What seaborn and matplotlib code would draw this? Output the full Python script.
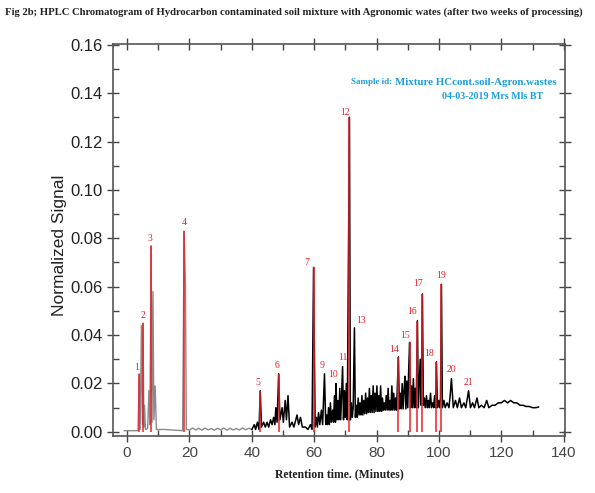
import numpy as np
import pandas as pd
import matplotlib
matplotlib.use("Agg")
import matplotlib.pyplot as plt
import seaborn as sns
from matplotlib.ticker import MultipleLocator, FormatStrFormatter


# early part of the trace (grey baseline with first peaks)
early_time = [-1, 3.5, 3.9, 4.2, 4.6, 4.9, 5.1, 5.4, 5.6, 5.9, 6.6, 7.0, 7.3, 7.7, 8.0, 8.3,
              8.6, 9.0, 9.4, 12, 17.8, 18.3, 18.7, 19.0, 20, 21, 22, 23, 24, 25, 26, 27,
              28, 29, 30, 31, 32, 33, 34, 35, 36, 37, 38, 39, 40]
early_signal = [0.0005, 0.0005, 0.024, 0.001, 0.044, 0.003, 0.045, 0.002, 0.011, 0.001, 0.0015,
                0.017, 0.003, 0.077, 0.004, 0.058, 0.005, 0.019, 0.001, 0.001, 0.0005, 0.083,
                0.061, 0.001, 0.0008, 0.0016, 0.0008, 0.0015, 0.0007, 0.0016, 0.0008, 0.0014,
                0.0007, 0.0015, 0.0008, 0.0016, 0.0007, 0.0015, 0.0008, 0.0014, 0.0008,
                0.0016, 0.0009, 0.0015, 0.001]

# black trace, 40-60 min
mid_points = [(40, 0.001), (40.8, 0.003), (41.2, 0.001), (41.8, 0.004), (42.3, 0.001),
              (42.7, 0.017), (43.1, 0.002), (43.8, 0.004), (44.3, 0.002), (44.9, 0.004),
              (45.4, 0.002), (46.0, 0.005), (46.5, 0.003), (47.0, 0.006), (47.4, 0.003),
              (47.7, 0.010), (48.1, 0.004), (48.6, 0.024), (49.0, 0.005), (49.7, 0.010),
              (50.1, 0.004), (50.7, 0.013), (51.1, 0.005), (51.6, 0.015), (52.1, 0.002),
              (52.9, 0.004), (53.5, 0.002), (54.5, 0.007), (55.0, 0.003), (55.6, 0.006),
              (56.2, 0.002), (57.2, 0.002), (58.0, 0.001), (58.8, 0.003), (59.3, 0.001),
              (59.8, 0.068), (60.3, 0.002)]

# black trace, dense 60-101 min
dense_points = [(60.7, 0.006), (61.0, 0.002), (61.4, 0.008), (61.8, 0.003), (62.3, 0.009),
                (62.7, 0.003), (63.3, 0.024), (63.7, 0.003), (64.0, 0.007), (64.3, 0.003),
                (64.6, 0.010), (64.9, 0.003), (65.2, 0.012), (65.5, 0.004), (65.9, 0.009),
                (66.2, 0.004), (66.5, 0.015), (66.8, 0.004), (67.0, 0.020), (67.3, 0.005),
                (67.6, 0.013), (67.9, 0.005), (68.2, 0.018), (68.5, 0.005), (68.8, 0.016),
                (69.1, 0.027), (69.4, 0.005), (69.7, 0.017), (70.0, 0.006), (70.3, 0.020),
                (70.6, 0.005), (71.3, 0.130), (71.6, 0.005), (71.9, 0.012), (72.2, 0.006),
                (72.5, 0.010), (72.9, 0.043), (73.2, 0.006), (73.5, 0.011), (73.8, 0.006),
                (74.1, 0.014), (74.4, 0.007), (74.7, 0.012), (75.0, 0.007), (75.3, 0.015),
                (75.6, 0.007), (75.9, 0.013), (76.2, 0.0075), (76.5, 0.016), (76.8, 0.0075),
                (77.1, 0.014), (77.4, 0.008), (77.7, 0.018), (78.0, 0.008), (78.3, 0.015),
                (78.6, 0.008), (78.9, 0.019), (79.2, 0.008), (79.5, 0.016), (79.8, 0.0085),
                (80.1, 0.019), (80.4, 0.0085), (80.7, 0.015), (81.0, 0.0085), (81.3, 0.019),
                (81.6, 0.0085), (81.9, 0.014), (82.2, 0.009), (82.5, 0.012), (82.8, 0.009),
                (83.1, 0.015), (83.4, 0.009), (83.7, 0.018), (84.0, 0.009), (84.3, 0.013),
                (84.6, 0.009), (84.9, 0.019), (85.2, 0.009), (85.5, 0.016), (85.8, 0.009),
                (86.1, 0.014), (86.4, 0.009), (86.7, 0.020), (87.0, 0.031), (87.3, 0.0095),
                (87.6, 0.016), (87.9, 0.0095), (88.2, 0.020), (88.5, 0.0095), (88.8, 0.017),
                (89.1, 0.023), (89.4, 0.0095), (89.7, 0.021), (90.0, 0.010), (90.3, 0.026),
                (90.6, 0.037), (90.9, 0.010), (91.2, 0.019), (91.5, 0.010), (91.8, 0.022),
                (92.1, 0.010), (92.4, 0.018), (92.7, 0.010), (93.1, 0.046), (93.4, 0.010),
                (93.7, 0.020), (94.0, 0.030), (94.3, 0.011), (94.7, 0.057), (95.0, 0.011),
                (95.3, 0.014), (95.6, 0.010), (96.0, 0.015), (96.3, 0.010), (96.6, 0.013),
                (96.9, 0.010), (97.3, 0.016), (97.6, 0.010), (98.0, 0.012), (98.3, 0.010),
                (98.6, 0.015), (98.9, 0.010), (99.2, 0.029), (99.5, 0.010), (99.9, 0.013),
                (100.2, 0.010), (100.5, 0.014), (100.8, 0.061), (101.1, 0.010)]

# black trace, tail 101-132 min
tail_points = [(101.6, 0.013), (102.0, 0.010), (102.6, 0.012), (103.2, 0.010), (103.6, 0.015),
               (104.0, 0.022), (104.6, 0.010), (105.3, 0.013), (105.9, 0.010), (106.6, 0.014),
               (107.2, 0.010), (108.0, 0.012), (108.6, 0.010), (109.5, 0.017), (110.1, 0.010),
               (110.8, 0.012), (111.4, 0.010), (112.2, 0.014), (112.8, 0.010), (113.6, 0.011),
               (114.5, 0.010), (115.3, 0.013), (116.0, 0.010), (117.0, 0.011), (118.0, 0.011),
               (119.0, 0.012), (120.0, 0.012), (121.0, 0.013), (122.0, 0.012), (123.0, 0.013),
               (124.0, 0.012), (125.0, 0.012), (126.0, 0.011), (127.0, 0.011), (128.0, 0.0105),
               (129.0, 0.0105), (130.0, 0.010), (131.0, 0.010), (132.0, 0.0103)]

# numbered peaks
peak_labels = ["1", "2", "3", "4", "5", "6", "7", "9", "10", "11", "12", "13", "14", "15",
               "16", "17", "18", "19", "20", "21"]
peak_time = [3.9, 5.1, 7.7, 18.3, 42.7, 48.6, 59.8, 63.3, 67.0, 69.1, 71.3, 72.9, 87.0, 90.6,
             93.1, 94.7, 99.2, 100.8, 104.0, 109.5]
peak_height = [0.024, 0.045, 0.077, 0.083, 0.017, 0.024, 0.068, 0.024, 0.020, 0.027, 0.130,
               0.043, 0.031, 0.037, 0.046, 0.057, 0.029, 0.061, 0.022, 0.017]
red_peaks = ["1", "2", "3", "4", "5", "6", "7", "12", "14", "15", "16", "17", "18", "19"]

label_offsets = [(-2, 1), (0, 2), (-1, 2), (0, 3), (-2, 3), (-1, 3), (-5, 0), (-2, 3), (-2, 3),
                 (0, 3), (-3, 0), (5, 2), (-3, 2), (-3, 2), (-4, 3), (-3, 4), (-5, 3), (0, 3),
                 (0, 3), (0, 3)]

early_df = pd.DataFrame({"time": early_time, "signal": early_signal})
late_df = pd.DataFrame(mid_points + dense_points + tail_points, columns=["time", "signal"])

sns.set_style("ticks")
plt.rcParams["font.family"] = ["Liberation Sans", "DejaVu Sans"]

fig = plt.figure(figsize=(5.95, 4.93), dpi=100)
ax = fig.add_axes([0.190, 0.1156, 0.760, 0.7952])

sns.lineplot(data=early_df, x="time", y="signal", ax=ax, color="#8a8a8a", lw=1.0,
             sort=False, estimator=None)
sns.lineplot(data=late_df, x="time", y="signal", ax=ax, color="black", lw=1.1,
             sort=False, estimator=None)

for lab, t, h, off in zip(peak_labels, peak_time, peak_height, label_offsets):
    if lab in red_peaks:
        ax.vlines(t, 0, h, color="#e8202a", lw=1.1)
    ax.annotate(lab, (t, h), xytext=off, textcoords="offset points", ha="center",
                va="bottom", color="#e8202a", fontsize=7, family="Liberation Serif")

ax.set_xlim(-4.5, 140.5)
ax.set_ylim(-0.0017, 0.1603)
ax.xaxis.set_major_locator(MultipleLocator(20))
ax.xaxis.set_minor_locator(MultipleLocator(10))
ax.yaxis.set_major_locator(MultipleLocator(0.02))
ax.yaxis.set_minor_locator(MultipleLocator(0.01))
ax.yaxis.set_major_formatter(FormatStrFormatter("%.2f"))
ax.tick_params(axis="both", which="both", top=True, right=True, direction="in",
               color="#444444", width=1.0)
ax.tick_params(axis="x", which="major", direction="inout", length=8, labelsize=11,
               labelcolor="#444444")
ax.tick_params(axis="x", which="minor", length=4)
ax.tick_params(axis="y", which="major", direction="inout", length=8, labelsize=12,
               labelcolor="#222222")
ax.tick_params(axis="y", which="minor", length=4)
for s in ax.spines.values():
    s.set_visible(True)
    s.set_color("#555555")
    s.set_linewidth(1.2)

ax.set_xlabel("Retention time. (Minutes)", family="Liberation Serif", fontweight="bold",
              fontsize=8.5, color="#222222", labelpad=6)
ax.set_ylabel("Normalized Signal", fontsize=12.5, color="#222222")
ax.yaxis.set_label_coords(-0.102, 0.487)

fig.text(0.008, 0.975, "Fig 2b; HPLC Chromatogram of Hydrocarbon contaminated soil mixture "
         "with Agronomic wates (after two weeks of processing)", family="Liberation Serif",
         fontweight="bold", fontsize=7.7, ha="left", va="center", color="#222222")

ax.text(0.617, 0.903, "Sample id:", transform=ax.transAxes, ha="right", va="center",
        color="#1b9fdc", family="Liberation Serif", fontweight="bold", fontsize=6.5)
ax.text(0.982, 0.903, "Mixture HCcont.soil-Agron.wastes", transform=ax.transAxes,
        ha="right", va="center", color="#1b9fdc", family="Liberation Serif",
        fontweight="bold", fontsize=7.8)
ax.text(0.951, 0.865, "04-03-2019 Mrs Mls BT", transform=ax.transAxes, ha="right",
        va="center", color="#1b9fdc", family="Liberation Serif", fontweight="bold",
        fontsize=7.2)

fig.savefig("out.png", dpi=100)
